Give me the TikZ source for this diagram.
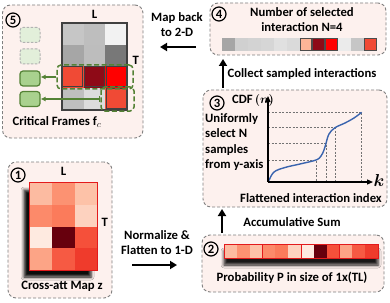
\documentclass[tikz,border=0pt]{standalone}
\usepackage{amsmath,bm}
\usepackage{fontspec}
\setmainfont{Carlito}
\usepackage{xcolor}
\usetikzlibrary{arrows.meta,positioning,shadows.blur}
\definecolor{panelfill}{HTML}{FDF1EE}
\definecolor{paneldraw}{HTML}{7F7F7F}
\definecolor{mapred}{HTML}{E31A1C}
\definecolor{framegreen}{HTML}{548235}
\definecolor{framefill}{HTML}{A9D18E}
\definecolor{framepale}{HTML}{E2EFDA}
\definecolor{cdfblue}{HTML}{3A64AE}

\begin{document}
\begin{tikzpicture}[x=1pt,y=-1pt,
  font=\fontsize{12.7}{15}\selectfont\bfseries,
  panel/.style={draw=paneldraw, fill=panelfill, line width=0.9pt, dash pattern=on 3pt off 2pt, rounded corners=8pt, inner sep=0pt},
  stepnum/.style={circle, draw, line width=1.2pt, inner sep=0.5pt, minimum size=14pt},
  bigarrow/.style={-{Triangle[length=7pt,width=8pt]}, line width=2.2pt},
  greenarrow/.style={-{Latex[length=5pt,width=5pt]}, draw=framegreen, line width=1.3pt},
  framebox/.style={rounded corners=3pt, minimum width=20pt, minimum height=15pt, inner sep=0pt},
  pickbox/.style={draw=framegreen, dash pattern=on 5pt off 2.5pt, line width=1.5pt, rounded corners=4pt, inner sep=0pt},
  guide/.style={draw=black!55, dash pattern=on 2pt off 1.5pt, line width=0.5pt}]
  \useasboundingbox (0,0) rectangle (390,302);

  % panels
  \node[panel, minimum width=140.5, minimum height=133] (box5) at (72.75,71.5) {};
  \node[panel, minimum width=176, minimum height=52] (box4) at (298,29) {};
  \node[panel, minimum width=184, minimum height=117] (box3) at (295,148.5) {};
  \node[panel, minimum width=182, minimum height=57] (box2) at (293,263.5) {};
  \node[panel, minimum width=104, minimum height=136] (box1) at (60,230) {};

  % (1) cross-attention map
  \node[stepnum] (n1) at (18,175) {1};
  \node[fill=white, minimum width=67, minimum height=87, inner sep=0pt,
        blur shadow={shadow xshift=-6pt, shadow yshift=-7pt, shadow blur radius=3pt, shadow opacity=95}] (attmap) at (63.5,226.5) {};
  \foreach \row [count=\r from 0] in {{FCBBA1,FC9272,FDC2A8},{FC8A6A,FB7B5B,FDD2BF},{FEEAE0,67000D,F5503A},{FCA486,F65A43,EF3B2C}}
    \foreach \c [count=\k from 0] in \row {
      \definecolor{cellc}{HTML}{\c}
      \fill[cellc] (30+\k*22.33,183+\r*21.75) rectangle ++(22.33,21.75);
    }
  \draw[mapred, line width=1.2pt] (attmap.north west) rectangle (attmap.south east);
  \node[above=4pt of attmap] (mapL) {L};
  \node[right=1pt of attmap, yshift=4pt] (mapT) {T};
  \node (maplabel) at (62,286) {Cross-att Map z};

  % (2) flattened probability
  \node[stepnum] (n2) at (211,249) {2};
  \node[fill=white, minimum width=154, minimum height=14, inner sep=0pt,
        blur shadow={shadow xshift=0pt, shadow yshift=-7pt, shadow blur radius=3pt, shadow opacity=90}] (probbar) at (301,251) {};
  \foreach \c [count=\k from 0] in {FCBBA1,FC9272,FDC2A8,FC8A6A,FB7B5B,FDD2BF,FEEAE0,67000D,F5503A,FCA486,F65A43,EF3B2C} {
    \definecolor{cellc}{HTML}{\c}
    \fill[cellc] (224+\k*12.83,244) rectangle ++(12.83,14);
  }
  \foreach \g in {0,1,2,3}
    \draw[mapred, line width=1pt] (224+\g*38.5,244) rectangle ++(38.5,14);
  \node (problabel) at (292,278) {Probability P in size of 1x(TL)};

  \node (sumlabel) at (292,222) {Accumulative Sum};
  \coordinate (sumfrom) at (222,233);
  \coordinate (sumto) at (222,209);
  \draw[bigarrow] (sumfrom) -- (sumto);

  % (3) CDF sampling
  \node[stepnum] (n3) at (217,103) {3};
  \coordinate (cdforigin) at (268,182);
  \coordinate (cdftop) at (268,96);
  \coordinate (cdfright) at (373,182);
  \draw[guide] (268,112.3) -- (361.7,112.3) -- (361.7,182);
  \draw[guide] (268,127.7) -- (335,127.7) -- (335,182);
  \draw[guide] (268,143.3) -- (326,143.3) -- (326,182);
  \draw[guide] (268,160) -- (316,160) -- (316,182);
  \draw[cdfblue, line width=1.4pt] plot[smooth, tension=0.6] coordinates {(269,180.5) (274,172) (285,167.5) (300,164) (316,160) (321,156) (324,150) (326,143.3) (329,134) (335,127.7) (345,123) (354,118) (361.7,112.3)};
  \draw[-{Triangle[length=6pt,width=5pt]}, line width=1.2pt] (cdforigin) -- (cdftop);
  \draw[-{Triangle[length=6pt,width=5pt]}, line width=1.2pt] (cdforigin) -- (cdfright);
  \node (cdflabel) at (253,100) {CDF\,$\bm{(n)}$};
  \node[font=\fontsize{17}{17}\selectfont] (cdfk) at (379,180) {$\bm{k}$};
  \node[align=left, anchor=north west, inner sep=0pt, font=\fontsize{12.7}{15.5}\selectfont\bfseries] (cdftext) at (205,113)
    {Uniformly\\select N\\samples\\from y-axis};
  \node (cdfxlabel) at (311,198) {Flattened interaction index};

  \node (collectlabel) at (302,74) {Collect sampled interactions};
  \coordinate (collectfrom) at (223,88);
  \coordinate (collectto) at (223,59);
  \draw[bigarrow] (collectfrom) -- (collectto);

  % (4) selected interactions
  \node[stepnum] (n4) at (219,14) {4};
  \node[align=center] (numlabel) at (302,20) {Number of selected\\interaction N=4};
  \foreach \c [count=\k from 0] in {A6A6A6,D0D0D0,D3D3D3,D6D6D6,E0E0E0,DADADA,FCB597,8E0A17,FF0000,EBEBEB,C6C6C6,F04A35} {
    \definecolor{cellc}{HTML}{\c}
    \fill[cellc] (222+\k*12.92,38) rectangle ++(12.92,13);
  }
  \foreach \k in {6,7,8,11}
    \draw[black!70, line width=0.9pt] (222.5+\k*12.92,38.5) rectangle ++(11.92,12);

  \node[align=center] (maplabel2) at (177,25) {Map back\\to 2-D};
  \coordinate (mapfrom) at (196,47);
  \coordinate (mapto) at (160,47);
  \draw[bigarrow] (mapfrom) -- (mapto);

  % (5) critical frames
  \node[stepnum] (n5) at (13,20) {5};
  \node[minimum width=65, minimum height=87, inner sep=0pt] (critgrid) at (94.5,66.5) {};
  \foreach \row [count=\r from 0] in {{C6C6C6,BEBEBE,F2F2F2},{A6A6A6,BDBDBD,787878},{F04A35,8E0A17,FF0000},{BFBFBF,DCDCDC,F04A35}}
    \foreach \c [count=\k from 0] in \row {
      \definecolor{cellc}{HTML}{\c}
      \fill[cellc] (62+\k*21.67,23+\r*21.75) rectangle ++(21.67,21.75);
    }
  \foreach \k in {0,1,2}
    \draw[black!75, line width=1pt] (62.8+\k*21.67,66.3) rectangle ++(20.1,20.2);
  \draw[black!75, line width=1pt] (106.1,88.1) rectangle ++(20.1,20.2);
  \draw[black!75, line width=1.5pt] (critgrid.north west) rectangle (critgrid.south east);
  \node[above=1pt of critgrid] (gridL) {L};
  \node[right=2pt of critgrid, yshift=6pt] (gridT) {T};

  \node[pickbox, minimum width=76, minimum height=24] (pick1) at (95,77) {};
  \node[pickbox, minimum width=33, minimum height=24] (pick2) at (117.5,99) {};

  \node[framebox, fill=framepale, draw=black!30, dash pattern=on 2.5pt off 1.5pt, line width=1pt] (sq1) at (30,35) {};
  \node[framebox, fill=framepale, draw=black!30, dash pattern=on 2.5pt off 1.5pt, line width=1pt] (sq2) at (30,56.5) {};
  \node[framebox, fill=framefill, draw=framegreen, line width=1.2pt] (sq3) at (30,78.5) {};
  \node[framebox, fill=framefill, draw=framegreen, line width=1.2pt] (sq4) at (30,99) {};
  \draw[greenarrow] (pick1.west) -- (pick1.west -| sq3.east);
  \draw[greenarrow, {Bar[width=6pt]}-{Latex[length=5pt,width=5pt]}] (pick2.west) -- (pick2.west -| sq4.east);
  \node (critlabel) at (57,122) {Critical Frames f$_{c}$};

  % between (1) and (2)
  \node[align=center] (normlabel) at (157,243) {Normalize \&\\Flatten to 1-D};
  \coordinate (normfrom) at (132,265);
  \coordinate (normto) at (177,265);
  \draw[bigarrow] (normfrom) -- (normto);
\end{tikzpicture}
\end{document}
